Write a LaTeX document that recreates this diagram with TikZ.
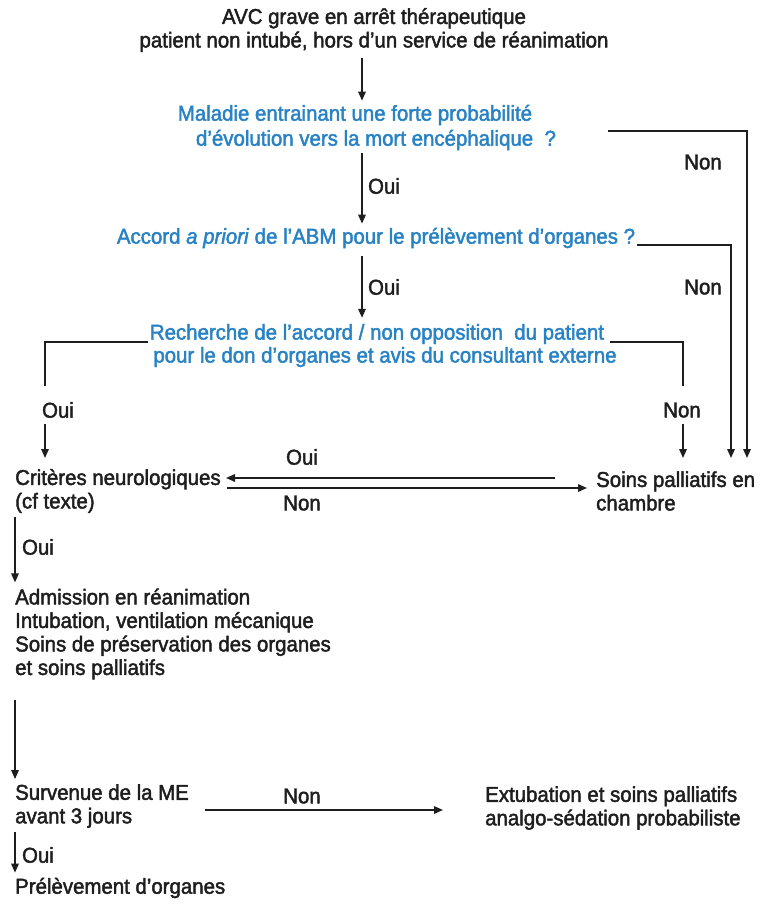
\documentclass[tikz,border=0pt]{standalone}
\usepackage{fontspec}
\setmainfont{Liberation Sans}[FakeStretch=0.95,FakeBold=2.0]
\usetikzlibrary{arrows.meta,calc}
\definecolor{qblue}{RGB}{40,130,195}
\definecolor{ink}{RGB}{30,30,30}
\begin{document}
\begin{tikzpicture}[x=1pt,y=-1pt,
  txt/.style={inner sep=0pt, font=\fontsize{21.5}{23.5}\selectfont, text=ink},
  q/.style={txt, text=qblue},
  arr/.style={-{Triangle[length=9pt,width=7.5pt]}, line width=1.5pt, draw=ink},
  ln/.style={line width=1.5pt, draw=ink}]
\useasboundingbox (0,0) rectangle (781,906);

% nodes
\node[txt, align=center] (top) at (374,30) {AVC grave en arrêt thérapeutique\\patient non intubé, hors d’un service de réanimation};
\node[q] (q1a) at (355,115) {Maladie entrainant une forte probabilité};
\node[q] (q1b) at (376,140) {d’évolution vers la mort encéphalique\ \ ?};
\node[q] (q2) at (376,238) {Accord \textit{a priori} de l’ABM pour le prélèvement d’organes ?};
\node[q] (q3a) at (377,334) {Recherche de l’accord / non opposition\ \ du patient};
\node[q] (q3b) at (385,357) {pour le don d’organes\ et avis du consultant\ externe};
\node[txt, anchor=west, align=left] (crit) at (15,491) {Critères neurologiques\\(cf texte)};
\node[txt, anchor=west, align=left] (soins) at (596,491) {Soins palliatifs en\\chambre};
\node[txt, anchor=west, align=left] (adm) at (15,634) {Admission en réanimation\\Intubation, ventilation mécanique\\Soins de préservation\ des organes\\et soins palliatifs};
\node[txt, anchor=west, align=left] (surv) at (15,806) {Survenue de la ME\\avant 3 jours};
\node[txt, anchor=west, align=left] (extu) at (485,808) {Extubation et soins palliatifs\\analgo-sédation\ probabiliste};
\node[txt, anchor=west] (prel) at (15,888) {Prélèvement d’organes};

% labels
\node[txt] (l1) at (703,162) {Non};
\node[txt] (l2) at (703,287) {Non};
\node[txt] (l3) at (384,186) {Oui};
\node[txt] (l4) at (384,287) {Oui};
\node[txt] (l5) at (58,410) {Oui};
\node[txt] (l6) at (682,410) {Non};
\node[txt] (l7) at (302,457) {Oui};
\node[txt] (l8) at (302,503) {Non};
\node[txt] (l9) at (38,547) {Oui};
\node[txt] (l10) at (302,796) {Non};
\node[txt] (l11) at (38,855) {Oui};

% helper coordinates
\coordinate (ax) at (362,0);
\coordinate (c1) at (608,131);
\coordinate (x1) at (747,0);
\coordinate (c2) at (637,245);
\coordinate (x2) at (731,0);
\coordinate (c3l) at (148,342);
\coordinate (xl) at (45,0);
\coordinate (c3r) at (610,342);
\coordinate (xr) at (683,0);
\coordinate (yin) at (0,458);
\coordinate (oA) at (555,478);
\coordinate (oB) at (226,478);
\coordinate (nA) at (227,488);
\coordinate (nB) at (587,488);
\coordinate (xc) at (15,0);
\coordinate (sA) at (205,810);
\coordinate (sB) at (443,810);

% connectors
\draw[arr] (top.south -| ax) ++(0,6) -- ($(q1a.north -| ax)+(0,-4)$);
\draw[arr] ($(q1b.south -| ax)+(0,3)$) -- ($(q2.north -| ax)+(0,-4)$);
\draw[arr] ($(q2.south -| ax)+(0,8)$) -- ($(q3a.north -| ax)+(0,-6)$);
\draw[arr] (c1) -| (x1 |- yin);
\draw[arr] (c2) -| (x2 |- yin);
\draw[ln] (c3l) -| (xl |- 0,386);
\draw[arr] (xl |- 0,424) -- (xl |- yin);
\draw[ln] (c3r) -| (xr |- 0,386);
\draw[arr] (xr |- 0,424) -- (xr |- yin);
\draw[arr] (oA) -- (oB);
\draw[arr] (nA) -- (nB);
\draw[arr] ($(crit.south -| xc)+(0,4)$) -- ($(adm.north -| xc)+(0,-6)$);
\draw[arr] ($(adm.south -| xc)+(0,20)$) -- ($(surv.north -| xc)+(0,-5)$);
\draw[arr] (sA) -- (sB);
\draw[arr] ($(surv.south -| xc)+(0,4)$) -- ($(prel.north -| xc)+(0,-5)$);
\end{tikzpicture}
\end{document}
